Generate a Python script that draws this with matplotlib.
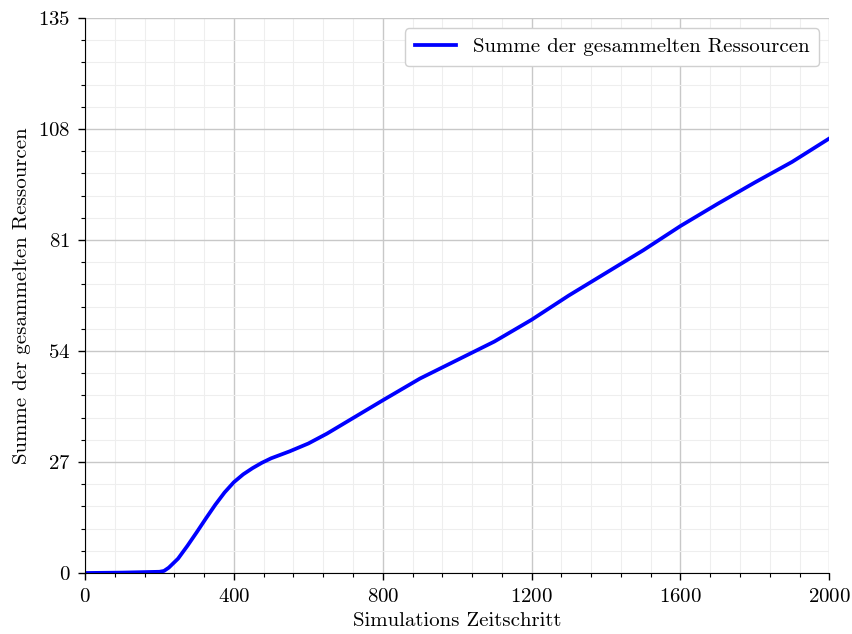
import matplotlib
matplotlib.use("Agg")
import matplotlib.pyplot as plt
from matplotlib.ticker import MultipleLocator

plt.rcParams["font.family"] = ["cmr10", "DejaVu Serif"]
plt.rcParams["axes.formatter.use_mathtext"] = True
plt.rcParams["font.size"] = 15

# cumulative collected resources per simulation step
steps = [0, 100, 200, 212, 225, 250, 275, 300, 325, 350, 375, 400, 425, 450,
         475, 500, 550, 600, 650, 700, 750, 800, 900, 1000, 1100, 1200, 1300,
         1400, 1500, 1600, 1700, 1800, 1900, 2000]
resources = [0, 0.1, 0.3, 0.5, 1.3, 3.5, 6.6, 9.9, 13.3, 16.6, 19.6, 22.1,
             24.0, 25.5, 26.8, 27.9, 29.6, 31.5, 33.9, 36.6, 39.3, 42.0, 47.3,
             51.8, 56.3, 61.6, 67.5, 73.0, 78.5, 84.4, 89.8, 95.0, 100.0,
             105.7]

fig = plt.figure(figsize=(8.53, 6.34), dpi=100)
ax = fig.add_axes([0.0997, 0.0962, 0.8725, 0.8754])

ax.plot(steps, resources, color="blue", lw=2.7,
        label="Summe der gesammelten Ressourcen")

ax.set_xlim(0, 2000)
ax.set_ylim(0, 135)
ax.xaxis.set_major_locator(MultipleLocator(400))
ax.xaxis.set_minor_locator(MultipleLocator(80))
ax.yaxis.set_major_locator(MultipleLocator(27))
ax.yaxis.set_minor_locator(MultipleLocator(5.4))

ax.grid(which="major", color="#c8c8c8", lw=1.0)
ax.grid(which="minor", color="#eeeeee", lw=0.8)
ax.set_axisbelow(True)

for side in ("top", "right"):
    ax.spines[side].set_visible(False)
ax.tick_params(which="major", length=5, width=1.0, pad=5.5, labelsize=15)
ax.tick_params(which="minor", length=3, width=0.8)

ax.set_xlabel("Simulations Zeitschritt", fontsize=15, labelpad=5)
ax.set_ylabel("Summe der gesammelten Ressourcen", fontsize=15, labelpad=5)
ax.legend(loc="upper right", framealpha=1.0, edgecolor="#d0d0d0",
          fontsize=15, handlelength=2.0, borderpad=0.45)

fig.savefig("out.png", dpi=100)
